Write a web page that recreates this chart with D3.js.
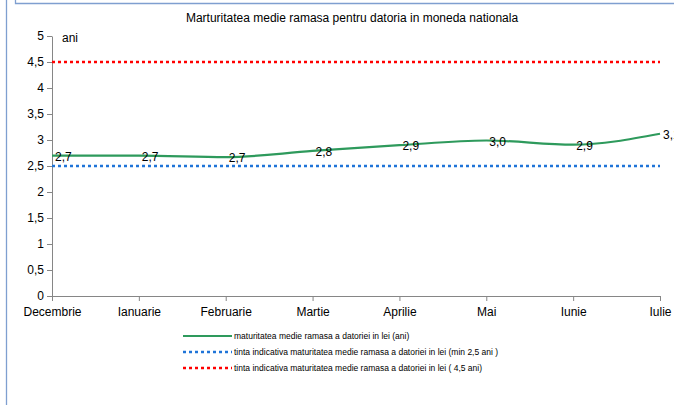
<!DOCTYPE html>
<html lang="ro">
<head>
<meta charset="UTF-8">
<title>Maturitatea medie ramasa</title>
<script src="https://d3js.org/d3.v7.min.js"></script>
<style>
    body { margin: 0; background: #fff; }
    svg { display: block; font-family: "Liberation Sans", Arial, sans-serif; }
    .axis path, .axis line { stroke: #868686; }
    .axis text { fill: #000; font-size: 12px; }
</style>
</head>
<body>
<div id="chart"></div>
<script>
    // data
    var months = ["Decembrie", "Ianuarie", "Februarie", "Martie", "Aprilie", "Mai", "Iunie", "Iulie"];
    var maturity = [2.7, 2.7, 2.67, 2.79, 2.9, 2.99, 2.91, 3.12];
    var maturityLabels = ["2,7", "2,7", "2,7", "2,8", "2,9", "3,0", "2,9", "3,1"];
    var targetMin = [2.5, 2.5, 2.5, 2.5, 2.5, 2.5, 2.5, 2.5];
    var targetMax = [4.5, 4.5, 4.5, 4.5, 4.5, 4.5, 4.5, 4.5];
    var yTicks = [0, 0.5, 1, 1.5, 2, 2.5, 3, 3.5, 4, 4.5, 5];
    var legendNames = [
        "maturitatea medie ramasa a datoriei in lei (ani)",
        "tinta indicativa maturitatea medie ramasa a datoriei in lei  (min 2,5 ani )",
        "tinta indicativa maturitatea medie ramasa a datoriei in lei  ( 4,5 ani)"
    ];

    var W = 674, H = 405;
    var margin = {top: 36, right: 14, bottom: 109, left: 52},
        width = W - margin.left - margin.right,
        height = H - margin.top - margin.bottom;

    var svg = d3.select("#chart").append("svg")
        .attr("width", W)
        .attr("height", H);

    // frame lines of the page
    svg.append("line").attr("x1", 6.5).attr("x2", 6.5).attr("y1", 0).attr("y2", H)
        .attr("stroke", "#7f9fd0").attr("stroke-width", 1.3);
    svg.append("path").attr("d", "M15.5,0V3.5H" + W)
        .attr("fill", "none").attr("stroke", "#7f9fd0").attr("stroke-width", 1.3);

    svg.append("text")
        .attr("x", 352).attr("y", 22)
        .attr("text-anchor", "middle")
        .style("font-size", "12px")
        .text("Marturitatea medie ramasa pentru datoria in moneda nationala");

    var g = svg.append("g")
        .attr("transform", "translate(" + margin.left + "," + margin.top + ")");

    var x = d3.scalePoint().domain(months).range([0, width]);
    var y = d3.scaleLinear().domain([0, 5]).range([height, 0]);

    var yAxis = d3.axisLeft(y).tickValues(yTicks).tickSize(5).tickSizeOuter(0)
        .tickFormat(function(d) { return String(d).replace(".", ","); });
    var xAxis = d3.axisBottom(x).tickSize(5).tickSizeOuter(0).tickPadding(6);

    g.append("g").attr("class", "axis").call(yAxis);
    g.append("g").attr("class", "axis")
        .attr("transform", "translate(0," + height + ")")
        .call(xAxis);

    g.append("text").attr("x", 10).attr("y", 6)
        .style("font-size", "12px").text("ani");

    var line = d3.line()
        .x(function(d, i) { return x(months[i]); })
        .y(function(d) { return y(d); });

    g.append("path").datum(targetMax)
        .attr("d", line).attr("fill", "none")
        .attr("stroke", "#ff0000").attr("stroke-width", 2.5)
        .attr("stroke-dasharray", "3,3");
    g.append("path").datum(targetMin)
        .attr("d", line).attr("fill", "none")
        .attr("stroke", "#1f74d8").attr("stroke-width", 2.5)
        .attr("stroke-dasharray", "3,3");
    g.append("path").datum(maturity)
        .attr("d", d3.line().curve(d3.curveMonotoneX)
            .x(function(d, i) { return x(months[i]); })
            .y(function(d) { return y(d); }))
        .attr("fill", "none")
        .attr("stroke", "#2e9a5c").attr("stroke-width", 2.2);

    g.selectAll(".lbl").data(maturity).enter().append("text")
        .attr("class", "lbl")
        .attr("x", function(d, i) { return x(months[i]) + 3; })
        .attr("y", function(d) { return y(d) + 5; })
        .style("font-size", "12px")
        .text(function(d, i) { return maturityLabels[i]; });

    // legend
    var legendStyles = [
        {color: "#2e9a5c", dash: null, w: 2.2},
        {color: "#1f74d8", dash: "3,3", w: 2.5},
        {color: "#ff0000", dash: "3,3", w: 2.5}
    ];
    var lg = svg.append("g").attr("transform", "translate(183,336)");
    legendNames.forEach(function(name, i) {
        var row = lg.append("g").attr("transform", "translate(0," + (i * 16) + ")");
        row.append("line").attr("x1", 0).attr("x2", 49).attr("y1", 0).attr("y2", 0)
            .attr("stroke", legendStyles[i].color)
            .attr("stroke-width", legendStyles[i].w)
            .attr("stroke-dasharray", legendStyles[i].dash);
        row.append("text").attr("x", 51).attr("y", 3)
            .style("font-size", "8.5px").text(name);
    });
</script>
</body>
</html>
